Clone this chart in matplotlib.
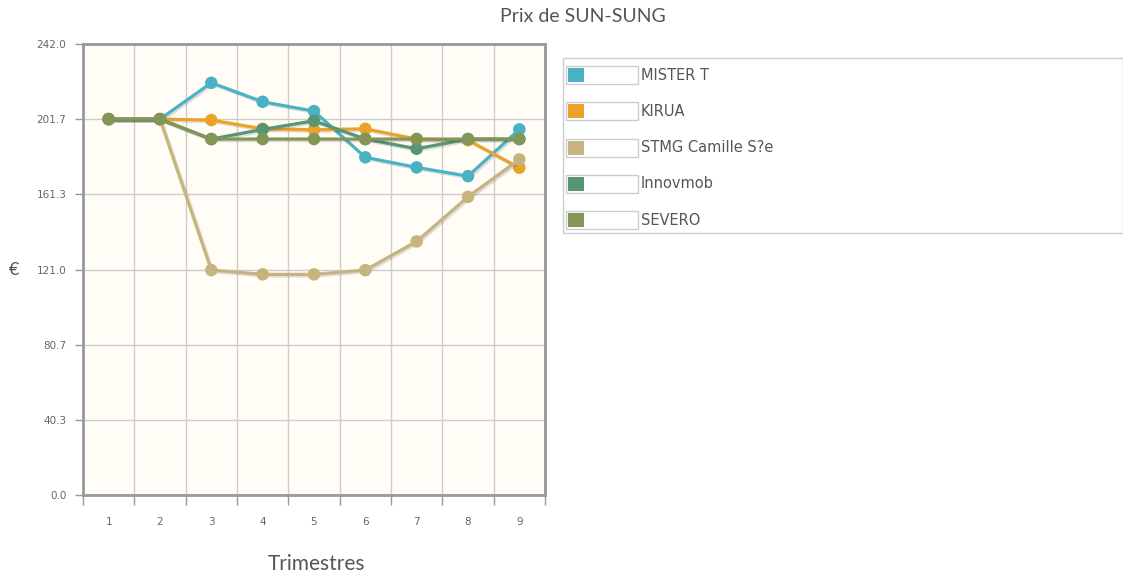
import matplotlib.pyplot as plt
import matplotlib.patheffects as pe
from matplotlib.patches import Rectangle
import numpy as np

trimestres = [1, 2, 3, 4, 5, 6, 7, 8, 9]
mister_t = [201.7, 201.7, 221.2, 211.0, 206.0, 181.2, 175.8, 171.1, 196.2]
kirua = [201.7, 201.7, 201.2, 196.5, 196.0, 196.5, 191.0, 190.4, 175.6]
stmg = [201.7, 201.7, 120.7, 118.4, 118.4, 120.7, 136.1, 160.0, 180.1]
innovmob = [201.7, 201.7, 191.0, 196.2, 200.8, 191.0, 185.8, 191.0, 191.0]
severo = [201.7, 201.7, 191.0, 191.0, 191.0, 191.0, 191.0, 191.0, 191.0]

noms = ["MISTER T", "KIRUA", "STMG Camille S?e", "Innovmob", "SEVERO"]
series = [mister_t, kirua, stmg, innovmob, severo]
couleurs = ["#4bb2c5", "#eaa228", "#c5b47f", "#579575", "#839557"]

y_max = 242.0
y_ticks = np.linspace(0, y_max, 7)

plt.rcParams['font.family'] = ['DejaVu Sans']

fig = plt.figure(figsize=(11.23, 5.77), dpi=100)
fig.patch.set_facecolor("white")
ax = fig.add_axes([0.0739, 0.1421, 0.4114, 0.7816])
ax.set_facecolor("#fffdf6")

shadow = [pe.SimpleLineShadow(offset=(1.2, -1.2), alpha=0.12, shadow_color="black"), pe.Normal()]
for nom, vals, c in zip(noms, series, couleurs):
    ax.plot(trimestres, vals, color=c, lw=2.3, marker="o", markersize=9,
            markeredgewidth=0, label=nom, path_effects=shadow, zorder=3)

ax.set_xlim(0.5, 9.5)
ax.set_ylim(0, y_max)
ax.set_xticks(trimestres)
ax.set_xticks(np.arange(0.5, 10, 1), minor=True)
ax.tick_params(axis="x", which="major", length=0, pad=16, labelsize=7.5, labelcolor="#666666")
ax.tick_params(axis="x", which="minor", length=7, color="#999999", width=1)
ax.set_yticks(y_ticks)
ax.set_yticklabels([f"{v:.1f}" for v in y_ticks])
ax.tick_params(axis="y", length=6, color="#999999", width=1, pad=6, labelsize=7.5, labelcolor="#666666")

ax.grid(True, which="minor", axis="x", color="#cccccc", lw=1)
ax.grid(True, which="major", axis="y", color="#cccccc", lw=1)
ax.set_axisbelow(True)
for s in ax.spines.values():
    s.set_color("#999999")
    s.set_linewidth(2)

W, H = 1123, 577
fig.text(316 / W, 1 - 564 / H, "Trimestres", fontsize=15, color="#555555",
         ha="center", va="center", family="Lato")
fig.text(14 / W, 1 - 270 / H, "€", fontsize=13, color="#555555", ha="center", va="center",
         family="Lato")
fig.text(583 / W, 1 - 17 / H, "Prix de SUN-SUNG", fontsize=14, color="#555555",
         ha="center", va="center", family="Lato")

# legende
fig.patches.append(Rectangle((563 / W, 1 - 233 / H), (1123 - 563) / W, 175 / H,
                             transform=fig.transFigure, facecolor="white",
                             edgecolor="#cccccc", lw=1))
for i, (nom, c) in enumerate(zip(noms, couleurs)):
    yc = 75 + i * 36.3
    fig.patches.append(Rectangle((566 / W, 1 - (yc + 9) / H), 72 / W, 18 / H,
                                 transform=fig.transFigure, facecolor="white",
                                 edgecolor="#cccccc", lw=1))
    fig.patches.append(Rectangle((568 / W, 1 - (yc + 7) / H), 16 / W, 14 / H,
                                 transform=fig.transFigure, facecolor=c, edgecolor="none"))
    fig.text(641 / W, 1 - yc / H, nom, fontsize=10.5, color="#555555", va="center", ha="left")

fig.savefig("out.png", dpi=100)
